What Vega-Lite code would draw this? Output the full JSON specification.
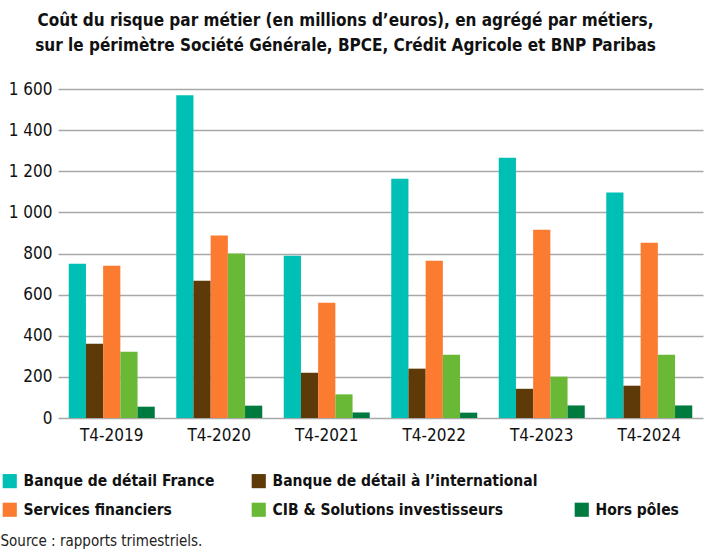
{
  "$schema": "https://vega.github.io/schema/vega-lite/v6.json",
  "width": 645,
  "height": 329,
  "autosize": {"type": "none"},
  "padding": {"left": 58, "top": 89, "right": 20, "bottom": 141},
  "background": "white",
  "title": {
    "text": ["Coût du risque par métier (en millions d’euros), en agrégé par métiers,", "sur le périmètre Société Générale, BPCE, Crédit Agricole et BNP Paribas"],
    "anchor": "middle",
    "dx": -35,
    "offset": 25,
    "font": "DejaVu Sans Condensed, sans-serif",
    "fontSize": 17,
    "fontWeight": "bold",
    "lineHeight": 25,
    "color": "#111111"
  },
  "config": {
    "view": {"stroke": null},
    "font": "DejaVu Sans Condensed, sans-serif"
  },
  "data": {
    "values": [
      {"annee": "T4-2019", "metier": "Banque de détail France", "valeur": 750},
      {"annee": "T4-2019", "metier": "Banque de détail à l’international", "valeur": 361},
      {"annee": "T4-2019", "metier": "Services financiers", "valeur": 741},
      {"annee": "T4-2019", "metier": "CIB & Solutions investisseurs", "valeur": 322},
      {"annee": "T4-2019", "metier": "Hors pôles", "valeur": 55},
      {"annee": "T4-2020", "metier": "Banque de détail France", "valeur": 1569},
      {"annee": "T4-2020", "metier": "Banque de détail à l’international", "valeur": 668},
      {"annee": "T4-2020", "metier": "Services financiers", "valeur": 888},
      {"annee": "T4-2020", "metier": "CIB & Solutions investisseurs", "valeur": 800},
      {"annee": "T4-2020", "metier": "Hors pôles", "valeur": 60},
      {"annee": "T4-2021", "metier": "Banque de détail France", "valeur": 789},
      {"annee": "T4-2021", "metier": "Banque de détail à l’international", "valeur": 220},
      {"annee": "T4-2021", "metier": "Services financiers", "valeur": 561},
      {"annee": "T4-2021", "metier": "CIB & Solutions investisseurs", "valeur": 115},
      {"annee": "T4-2021", "metier": "Hors pôles", "valeur": 27},
      {"annee": "T4-2022", "metier": "Banque de détail France", "valeur": 1164},
      {"annee": "T4-2022", "metier": "Banque de détail à l’international", "valeur": 240},
      {"annee": "T4-2022", "metier": "Services financiers", "valeur": 765},
      {"annee": "T4-2022", "metier": "CIB & Solutions investisseurs", "valeur": 308},
      {"annee": "T4-2022", "metier": "Hors pôles", "valeur": 26},
      {"annee": "T4-2023", "metier": "Banque de détail France", "valeur": 1266},
      {"annee": "T4-2023", "metier": "Banque de détail à l’international", "valeur": 142},
      {"annee": "T4-2023", "metier": "Services financiers", "valeur": 916},
      {"annee": "T4-2023", "metier": "CIB & Solutions investisseurs", "valeur": 201},
      {"annee": "T4-2023", "metier": "Hors pôles", "valeur": 61},
      {"annee": "T4-2024", "metier": "Banque de détail France", "valeur": 1097},
      {"annee": "T4-2024", "metier": "Banque de détail à l’international", "valeur": 157},
      {"annee": "T4-2024", "metier": "Services financiers", "valeur": 852},
      {"annee": "T4-2024", "metier": "CIB & Solutions investisseurs", "valeur": 308},
      {"annee": "T4-2024", "metier": "Hors pôles", "valeur": 61}
    ]
  },
  "mark": {"type": "bar"},
  "encoding": {
    "x": {
      "field": "annee",
      "type": "nominal",
      "scale": {"paddingInner": 0.2, "paddingOuter": 0.1},
      "axis": {
        "title": "Source : rapports trimestriels.",
        "titleAnchor": "start",
        "titleAlign": "left",
        "titleBaseline": "alphabetic",
        "titleX": -58,
        "titleY": 127,
        "titleFontSize": 15,
        "titleFontWeight": "normal",
        "titleColor": "#222222",
        "labelAngle": 0,
        "labelFontSize": 17,
        "labelColor": "#111111",
        "labelPadding": 9,
        "ticks": false,
        "domain": false
      }
    },
    "xOffset": {
      "field": "metier",
      "type": "nominal",
      "scale": {
        "domain": ["Banque de détail France", "Banque de détail à l’international", "Services financiers", "CIB & Solutions investisseurs", "Hors pôles"],
        "paddingInner": 0,
        "paddingOuter": 0
      }
    },
    "y": {
      "field": "valeur",
      "type": "quantitative",
      "scale": {"domain": [0, 1600], "nice": false},
      "axis": {
        "title": null,
        "values": [0, 200, 400, 600, 800, 1000, 1200, 1400, 1600],
        "labelExpr": "replace(format(datum.value, ',d'), ',', ' ')",
        "labelFontSize": 17,
        "labelColor": "#111111",
        "labelPadding": 6,
        "ticks": false,
        "domain": false,
        "gridColor": "#A8A8A8",
        "gridWidth": 1.6
      }
    },
    "color": {
      "field": "metier",
      "type": "nominal",
      "scale": {
        "domain": ["Banque de détail France", "Banque de détail à l’international", " ", "Services financiers", "CIB & Solutions investisseurs", "Hors pôles"],
        "range": ["#00C0B5", "#5D3A08", "transparent", "#FB7B30", "#6AB936", "#007B3F"]
      },
      "legend": {
        "title": null,
        "orient": "none",
        "legendX": -56,
        "legendY": 384,
        "direction": "horizontal",
        "columns": 3,
        "columnPadding": 36,
        "rowPadding": 12,
        "symbolType": "square",
        "symbolSize": 200,
        "symbolStrokeWidth": 0,
        "symbolOpacity": 1,
        "labelFontSize": 15.5,
        "labelFontWeight": "bold",
        "labelColor": "#111111",
        "labelOffset": 6,
        "labelLimit": 400
      }
    }
  }
}
